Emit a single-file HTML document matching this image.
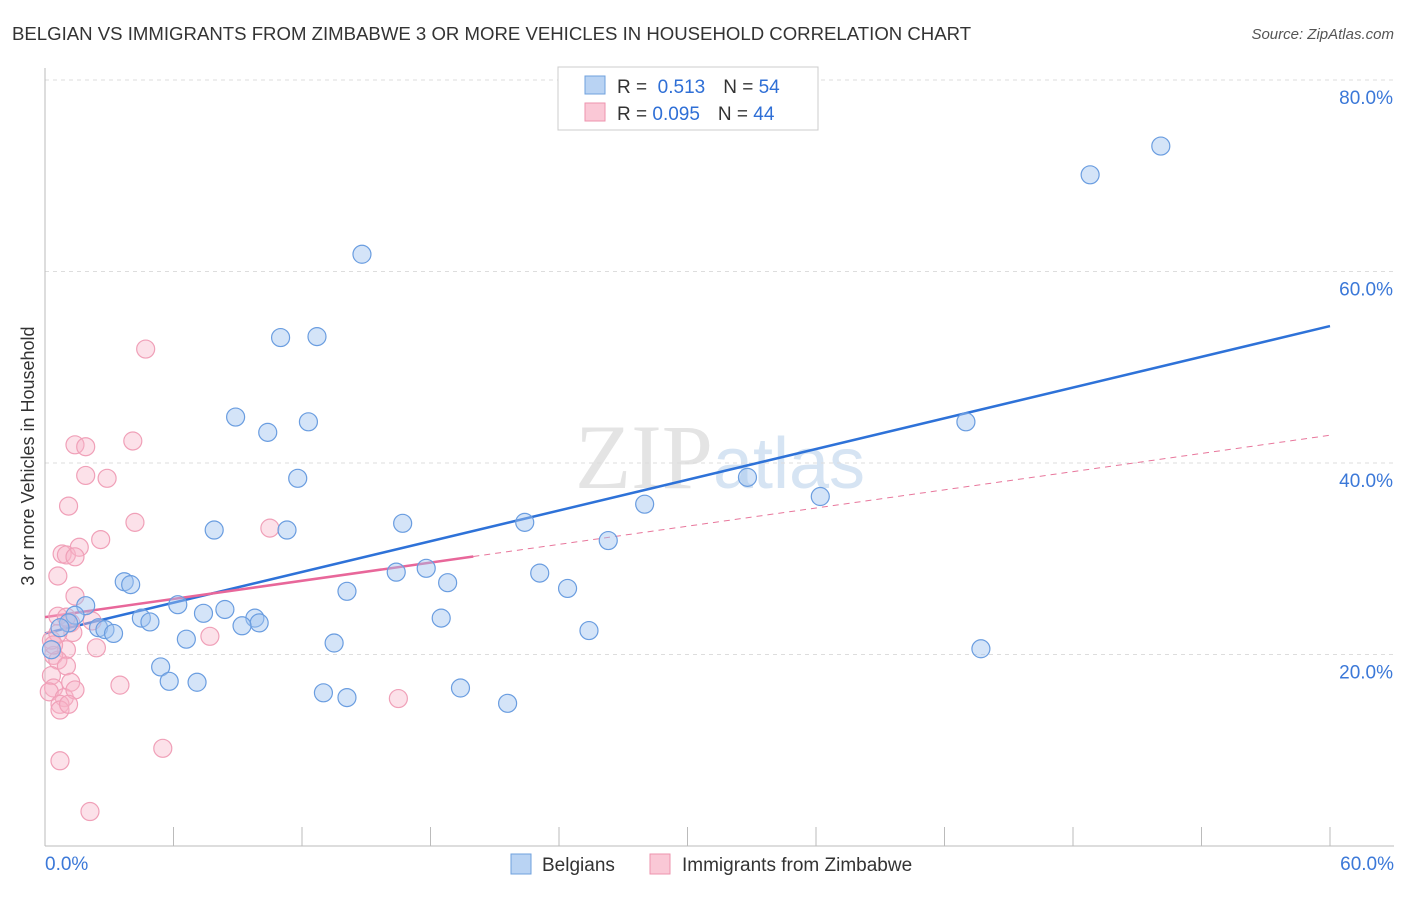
<!DOCTYPE html>
<html><head><meta charset="utf-8"><style>
body{margin:0;background:#fff;font-family:"Liberation Sans",sans-serif}
</style></head><body>
<svg width="1406" height="892" xmlns="http://www.w3.org/2000/svg" id="chart">
<text x="12" y="40" font-size="18.6" fill="#333">BELGIAN VS IMMIGRANTS FROM ZIMBABWE 3 OR MORE VEHICLES IN HOUSEHOLD CORRELATION CHART</text>
<text x="1394" y="39" font-size="15" fill="#555" font-style="italic" text-anchor="end">Source: ZipAtlas.com</text>
<text x="720" y="488" font-size="92" fill="#e4e4e4" text-anchor="middle" font-family="Liberation Serif,serif">ZIP<tspan fill="#d6e4f3" font-family="Liberation Sans,sans-serif" font-size="72">atlas</tspan></text>
<text transform="translate(34,456) rotate(-90)" font-size="18" fill="#333" text-anchor="middle">3 or more Vehicles in Household</text>
<g id="grid"></g><g id="axes"></g><g id="trend"></g><g id="pts"></g>
<g>
<rect x="558" y="67" width="260" height="63" fill="#fff" stroke="#ccc"/>
<rect x="585" y="76" width="20" height="18" fill="#b9d3f3" stroke="#6fa0de"/>
<rect x="585" y="103" width="20" height="18" fill="#fac8d6" stroke="#ee93ae"/>
<text x="617" y="93" font-size="19" fill="#333">R = <tspan fill="#2f6fd6">&#160;0.513</tspan><tspan dx="18" fill="#333">N = </tspan><tspan fill="#2f6fd6">54</tspan></text>
<text x="617" y="120" font-size="19" fill="#333">R = <tspan fill="#2f6fd6">0.095</tspan><tspan dx="18" fill="#333">N = </tspan><tspan fill="#2f6fd6">44</tspan></text>
</g>
<g>
<rect x="511" y="854" width="20" height="20" fill="#b9d3f3" stroke="#6fa0de"/>
<text x="542" y="871" font-size="19" fill="#333">Belgians</text>
<rect x="650" y="854" width="20" height="20" fill="#fac8d6" stroke="#ee93ae"/>
<text x="682" y="871" font-size="19" fill="#333">Immigrants from Zimbabwe</text>
</g>
</svg>
<script>
const yTicks=[20,40,60,80];
const xTickLabels=["0.0%","60.0%"];
const blueX=[52.1,48.8,14.8,11.0,12.7,8.9,10.4,12.3,43.0,11.8,32.8,36.2,28.0,7.9,11.3,16.7,22.4,26.3,16.4,17.8,23.1,18.8,24.4,3.7,4.0,14.1,1.9,6.2,7.4,8.4,1.4,4.5,4.9,9.8,10.0,9.2,18.5,1.1,2.5,2.8,3.2,0.7,25.4,6.6,13.5,43.7,0.3,5.4,5.8,7.1,19.4,13.0,14.1,21.6];
const blueY=[73.1,70.1,61.8,53.1,53.2,44.8,43.2,44.3,44.3,38.4,38.5,36.5,35.7,33.0,33.0,33.7,33.8,31.9,28.6,29.0,28.5,27.5,26.9,27.6,27.3,26.6,25.1,25.2,24.3,24.7,24.1,23.8,23.4,23.8,23.3,23.0,23.8,23.3,22.8,22.6,22.2,22.8,22.5,21.6,21.2,20.6,20.5,18.7,17.2,17.1,16.5,16.0,15.5,14.9];
const pinkX=[4.7,1.4,1.9,4.1,1.9,2.9,1.1,4.2,10.5,2.6,0.8,1.0,1.6,1.4,0.6,1.4,0.6,2.2,1.2,1.3,7.7,2.4,1.0,0.4,0.6,1.0,0.3,1.2,0.4,3.5,0.2,0.9,0.7,0.7,16.5,5.5,0.7,2.1,0.3,0.6,0.4,1.0,1.4,1.1];
const pinkY=[51.9,41.9,41.7,42.3,38.7,38.4,35.5,33.8,33.2,32.0,30.5,30.4,31.2,30.2,28.2,26.1,24.0,23.5,23.3,22.3,21.9,20.7,20.5,19.9,19.4,18.8,17.8,17.1,16.5,16.8,16.1,15.5,14.8,14.2,15.4,10.2,8.9,3.6,21.5,22.2,21.0,23.9,16.3,14.8];
const blueTrend=[22.2,54.3];
const pinkTrend=[23.9,42.9];
const pinkSolidEnd=20;
const NS="http://www.w3.org/2000/svg";
const X=v=>45+v/60*1285, Y=v=>846-v/20*191.5;
function mk(tag,attrs,parent){const e=document.createElementNS(NS,tag);for(const k in attrs)e.setAttribute(k,attrs[k]);document.getElementById(parent).appendChild(e);return e;}
yTicks.forEach(t=>{
 const l=mk('line',{x1:45,x2:1394,y1:Y(t),y2:Y(t),stroke:'#ddd','stroke-dasharray':'4,4'},'grid');
 
 
 const tx=mk('text',{x:1393,y:Y(t)+24,'font-size':19,fill:'#3b78d8','text-anchor':'end'},'grid');
 tx.textContent=t.toFixed(1)+'%';
 
 
});
const ax=mk('line',{x1:45,x2:1394,y1:846,y2:846,stroke:'#bbb'},'axes');


const ay=mk('line',{x1:45,x2:45,y1:68,y2:846,stroke:'#bbb'},'axes');


for(let i=0;i<=10;i++){const v=i*6;const t=mk('line',{x1:X(v),x2:X(v),y1:827,y2:846,stroke:'#bbb'},'axes');
 
 }
[[0,xTickLabels[0],'start'],[60,xTickLabels[1],'end']].forEach(([v,s,a])=>{
 const t=mk('text',{x:a==='start'?X(v):1394,y:870,'font-size':19,fill:'#3b78d8','text-anchor':a},'axes');t.textContent=s;
 
 });
const bl=mk('line',{x1:X(0),y1:Y(blueTrend[0]),x2:X(60),y2:Y(blueTrend[1]),stroke:'#2e72d8','stroke-width':2.5},'trend');


const py=x=>pinkTrend[0]+(pinkTrend[1]-pinkTrend[0])*x/60;
const pd=mk('line',{x1:X(pinkSolidEnd),y1:Y(py(pinkSolidEnd)),x2:X(60),y2:Y(pinkTrend[1]),stroke:'#e8779c','stroke-width':1,'stroke-dasharray':'6,5'},'trend');


const ps=mk('line',{x1:X(0),y1:Y(pinkTrend[0]),x2:X(pinkSolidEnd),y2:Y(py(pinkSolidEnd)),stroke:'#e8679a','stroke-width':2.5},'trend');


pinkX.forEach((x,i)=>{const c=mk('circle',{cx:X(x),cy:Y(pinkY[i]),r:9,fill:'rgba(248,180,200,0.4)',stroke:'#f0a0b8','stroke-width':1.2},'pts');
 
 });
blueX.forEach((x,i)=>{const c=mk('circle',{cx:X(x),cy:Y(blueY[i]),r:9,fill:'rgba(160,195,240,0.45)',stroke:'#6a9de0','stroke-width':1.2},'pts');
 
 });
</script>
</body></html>
